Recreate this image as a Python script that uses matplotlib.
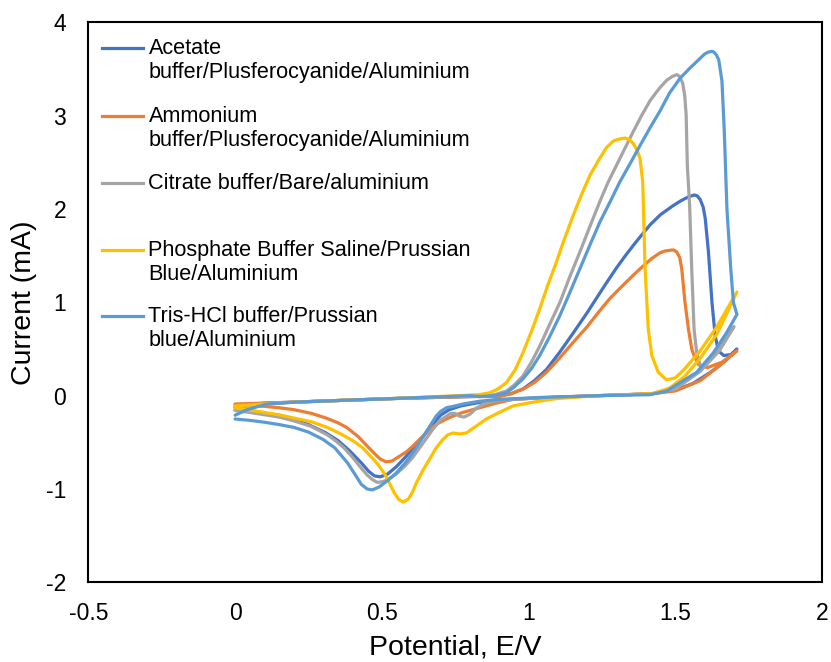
import matplotlib
matplotlib.use("Agg")
import matplotlib.pyplot as plt
from matplotlib.lines import Line2D

plt.rcParams['font.family'] = ['Liberation Sans', 'DejaVu Sans']

# === Data (potential E/V, current mA), one closed loop per electrolyte
acetate_E = [0.00, 0.05, 0.10, 0.15, 0.20, 0.25, 0.31, 0.35, 0.39, 0.43, 0.455, 0.475, 0.495, 0.52, 0.55, 0.58,
             0.61, 0.64, 0.67, 0.70, 0.73, 0.77, 0.82, 0.88, 1.00, 1.24, 1.42, 1.50, 1.56, 1.62, 1.67, 1.71,
             1.69, 1.665, 1.647, 1.636, 1.625, 1.613, 1.602, 1.595, 1.585, 1.575, 1.565, 1.545, 1.52, 1.49,
             1.45, 1.414, 1.38, 1.357, 1.33, 1.30, 1.27, 1.243, 1.20, 1.152, 1.105, 1.061, 1.02, 0.98, 0.94,
             0.90, 0.80, 0.55, 0.37, 0.20, 0.10, 0.04, 0.00]
acetate_I = [-0.15, -0.17, -0.19, -0.22, -0.25, -0.31, -0.40, -0.48, -0.59, -0.72, -0.81, -0.86, -0.87, -0.84, -0.76, -0.66,
             -0.55, -0.44, -0.32, -0.21, -0.15, -0.11, -0.08, -0.05, -0.03, 0.00, 0.02, 0.06, 0.13, 0.25, 0.37, 0.50,
             0.44, 0.43, 0.48, 0.64, 1.00, 1.54, 1.90, 2.02, 2.10, 2.14, 2.15, 2.13, 2.09, 2.03,
             1.94, 1.83, 1.70, 1.61, 1.50, 1.37, 1.23, 1.10, 0.89, 0.67, 0.46, 0.28, 0.16, 0.07, 0.02,
             0.00, -0.01, -0.03, -0.05, -0.07, -0.08, -0.10, -0.12]

ammonium_E = [0.00, 0.05, 0.10, 0.15, 0.20, 0.26, 0.31, 0.35, 0.38, 0.42, 0.45, 0.475, 0.495, 0.515, 0.535, 0.56,
              0.585, 0.606, 0.635, 0.663, 0.69, 0.72, 0.75, 0.776, 0.833, 0.89, 0.947, 1.05, 1.24, 1.42, 1.50,
              1.585, 1.642, 1.71,
              1.66, 1.61, 1.58, 1.565, 1.556, 1.545, 1.533, 1.522, 1.515, 1.505, 1.495, 1.488, 1.465, 1.448,
              1.42, 1.391, 1.36, 1.334, 1.305, 1.277, 1.24, 1.20, 1.152, 1.105, 1.061, 1.02, 0.981, 0.94, 0.90,
              0.80, 0.55, 0.37, 0.20, 0.10, 0.00]
ammonium_I = [-0.10, -0.105, -0.115, -0.13, -0.15, -0.19, -0.24, -0.29, -0.34, -0.44, -0.54, -0.62, -0.68, -0.71, -0.70, -0.65,
              -0.60, -0.54, -0.45, -0.36, -0.30, -0.25, -0.21, -0.18, -0.13, -0.08, -0.04, -0.02, 0.00, 0.02, 0.05,
              0.16, 0.30, 0.48,
              0.36, 0.30, 0.33, 0.42, 0.50, 0.71, 1.00, 1.36, 1.48, 1.54, 1.56, 1.56, 1.55, 1.53,
              1.47, 1.39, 1.30, 1.22, 1.13, 1.04, 0.90, 0.74, 0.57, 0.40, 0.25, 0.14, 0.07, 0.02, -0.01,
              -0.01, -0.03, -0.05, -0.07, -0.08, -0.09]

citrate_E = [0.00, 0.05, 0.10, 0.15, 0.20, 0.26, 0.314, 0.345, 0.371, 0.40, 0.428, 0.45, 0.468, 0.485, 0.505, 0.525,
             0.549, 0.58, 0.606, 0.64, 0.674, 0.70, 0.72, 0.735, 0.75, 0.765, 0.78, 0.80, 0.82, 0.845, 0.90,
             1.00, 1.24, 1.42, 1.50, 1.585, 1.65, 1.70,
             1.65, 1.60, 1.585, 1.573, 1.564, 1.556, 1.549, 1.541, 1.537, 1.532, 1.525, 1.515, 1.505, 1.49,
             1.471, 1.445, 1.414, 1.385, 1.357, 1.33, 1.30, 1.27, 1.243, 1.21, 1.175, 1.14, 1.107, 1.07, 1.038,
             1.01, 0.981, 0.95, 0.925, 0.885, 0.85, 0.55, 0.37, 0.20, 0.10, 0.00]
citrate_I = [-0.16, -0.18, -0.205, -0.23, -0.27, -0.33, -0.42, -0.49, -0.56, -0.66, -0.77, -0.85, -0.90, -0.93, -0.92, -0.89,
             -0.84, -0.75, -0.66, -0.51, -0.36, -0.26, -0.22, -0.19, -0.19, -0.22, -0.23, -0.20, -0.14, -0.09, -0.05,
             -0.03, 0.00, 0.02, 0.07, 0.26, 0.48, 0.74,
             0.50, 0.33, 0.32, 0.46, 0.71, 1.36, 2.03, 2.47, 3.01, 3.22, 3.35, 3.42, 3.44, 3.42,
             3.38, 3.29, 3.16, 3.00, 2.83, 2.66, 2.47, 2.28, 2.08, 1.82, 1.54, 1.27, 1.00, 0.75, 0.53,
             0.36, 0.21, 0.11, 0.05, 0.01, 0.00, -0.03, -0.05, -0.07, -0.09, -0.13]

phosphate_E = [0.00, 0.05, 0.10, 0.15, 0.20, 0.26, 0.314, 0.36, 0.405, 0.435, 0.462, 0.485, 0.508, 0.525, 0.542, 0.557,
               0.572, 0.59, 0.605, 0.617, 0.64, 0.663, 0.685, 0.708, 0.725, 0.742, 0.765, 0.788, 0.82, 0.856, 0.90,
               0.947, 1.015, 1.10, 1.24, 1.42, 1.48, 1.53, 1.585, 1.642, 1.71,
               1.642, 1.585, 1.53, 1.50, 1.47, 1.442, 1.42, 1.408, 1.397, 1.391, 1.389, 1.38, 1.37, 1.357, 1.345,
               1.329, 1.31, 1.29, 1.266, 1.24, 1.209, 1.18, 1.152, 1.12, 1.095, 1.065, 1.038, 1.01, 0.981, 0.955,
               0.925, 0.895, 0.867, 0.83, 0.55, 0.37, 0.20, 0.10, 0.00]
phosphate_I = [-0.13, -0.155, -0.18, -0.205, -0.24, -0.28, -0.34, -0.41, -0.49, -0.56, -0.65, -0.73, -0.83, -0.93, -1.04, -1.11,
               -1.14, -1.11, -1.03, -0.94, -0.80, -0.68, -0.56, -0.47, -0.42, -0.40, -0.41, -0.40, -0.33, -0.25, -0.18,
               -0.11, -0.07, -0.03, 0.00, 0.02, 0.08, 0.20, 0.40, 0.66, 1.11,
               0.74, 0.48, 0.28, 0.19, 0.17, 0.25, 0.43, 0.71, 1.36, 2.08, 2.29, 2.54, 2.63, 2.70, 2.74,
               2.76, 2.75, 2.73, 2.66, 2.53, 2.36, 2.15, 1.93, 1.66, 1.43, 1.18, 0.93, 0.69, 0.46, 0.28,
               0.14, 0.07, 0.03, 0.01, -0.03, -0.05, -0.07, -0.09, -0.11]

tris_E = [0.00, 0.05, 0.10, 0.15, 0.20, 0.25, 0.30, 0.34, 0.383, 0.41, 0.43, 0.45, 0.468, 0.49, 0.52, 0.549, 0.58,
          0.606, 0.635, 0.663, 0.685, 0.70, 0.72, 0.75, 0.776, 0.833, 0.90, 1.038, 1.243, 1.414, 1.471, 1.573,
          1.630, 1.676, 1.71,
          1.698, 1.689, 1.676, 1.667, 1.659, 1.648, 1.64, 1.632, 1.625, 1.612, 1.60, 1.58, 1.55, 1.516, 1.48,
          1.448, 1.414, 1.38, 1.345, 1.311, 1.28, 1.243, 1.21, 1.175, 1.14, 1.107, 1.07, 1.038, 1.01, 0.981,
          0.95, 0.925, 0.88, 0.833, 0.80, 0.55, 0.37, 0.20, 0.109, 0.041, 0.00]
tris_I = [-0.25, -0.265, -0.285, -0.31, -0.34, -0.39, -0.47, -0.56, -0.72, -0.85, -0.95, -1.00, -1.01, -0.98, -0.91, -0.83, -0.72,
          -0.61, -0.47, -0.33, -0.22, -0.17, -0.13, -0.11, -0.09, -0.06, -0.04, -0.02, 0.00, 0.01, 0.05, 0.25,
          0.46, 0.68, 0.87,
          1.00, 1.36, 2.00, 2.83, 3.37, 3.60, 3.65, 3.68, 3.69, 3.68, 3.66, 3.60, 3.51, 3.40, 3.24,
          3.05, 2.87, 2.68, 2.48, 2.29, 2.09, 1.86, 1.62, 1.36, 1.10, 0.86, 0.62, 0.43, 0.29, 0.18,
          0.09, 0.03, 0.00, -0.01, 0.00, -0.03, -0.05, -0.07, -0.09, -0.15, -0.21]

labels = ["Acetate\nbuffer/Plusferocyanide/Aluminium",
          "Ammonium\nbuffer/Plusferocyanide/Aluminium",
          "Citrate buffer/Bare/aluminium",
          "Phosphate Buffer Saline/Prussian\nBlue/Aluminium",
          "Tris-HCl buffer/Prussian\nblue/Aluminium"]
colors = ['#4472C4', '#ED7D31', '#A5A5A5', '#FFC000', '#5B9BD5']
series = [(acetate_E, acetate_I), (ammonium_E, ammonium_I), (citrate_E, citrate_I),
          (phosphate_E, phosphate_I), (tris_E, tris_I)]

fig = plt.figure(figsize=(8.31, 6.62), dpi=100)
ax = fig.add_axes([0.1063, 0.1204, 0.8829, 0.8459])

for (E, I), c in zip(series, colors):
    ax.plot(E, I, color=c, lw=2.3, solid_joinstyle='round', solid_capstyle='round')

ax.set_xlim(-0.5, 2)
ax.set_ylim(-2, 4)
ax.set_xticks([-0.5, 0, 0.5, 1, 1.5, 2])
ax.set_xticklabels(['-0.5', '0', '0.5', '1', '1.5', '2'])
ax.set_yticks([-2, -1, 0, 1, 2, 3, 4])
ax.set_yticklabels(['-2', '-1', '0', '1', '2', '3', '4'])
ax.tick_params(axis='both', length=0, labelsize=16.5)
ax.tick_params(axis='x', pad=14)
ax.tick_params(axis='y', pad=16)
for s in ax.spines.values():
    s.set_linewidth(1.5)
    s.set_color('black')

ax.set_xlabel("Potential, E/V", fontsize=20.5, labelpad=7)
ax.set_ylabel("Current (mA)", fontsize=20.5, labelpad=6)

# === Excel-style legend: handle aligned with the first line of each label
leg_y = [0.954, 0.833, 0.713, 0.594, 0.475]
for lab, c, y in zip(labels, colors, leg_y):
    ax.add_line(Line2D([0.018, 0.075], [y, y], transform=ax.transAxes, color=c, lw=2.3))
    ax.text(0.082, y + 0.018, lab, transform=ax.transAxes, fontsize=15.6, va='top', ha='left',
            linespacing=1.2)

fig.savefig("out.png", dpi=100)
